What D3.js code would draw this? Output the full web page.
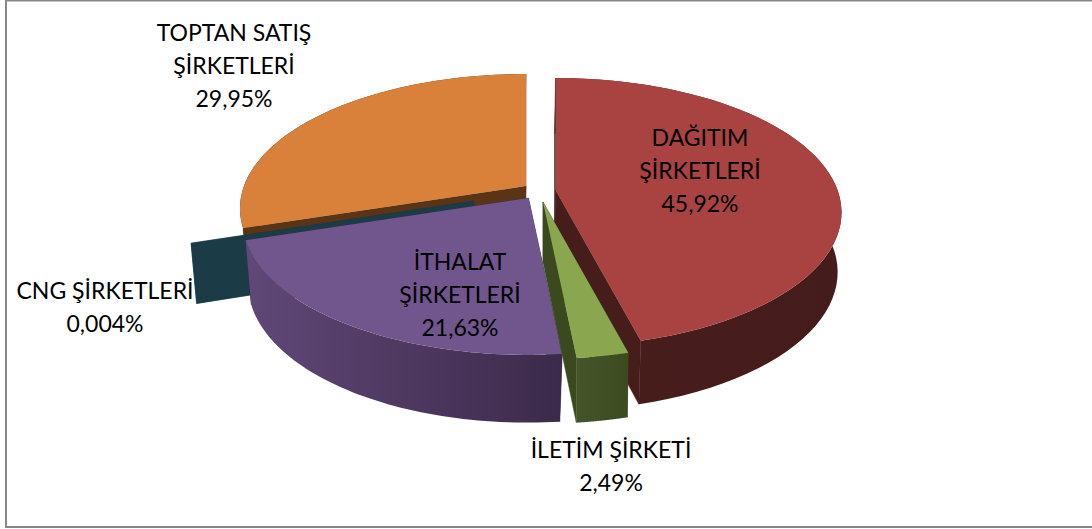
<!DOCTYPE html>
<html><head><meta charset="utf-8">
<script src="https://cdnjs.cloudflare.com/ajax/libs/d3/7.8.5/d3.min.js"></script>
<style>html,body{margin:0;padding:0;background:#fff}svg{display:block}
text{font-family:Lato,"Noto Sans",sans-serif;font-size:23px;fill:#000;text-anchor:middle}</style>
</head><body><svg id="c" width="1092" height="529"></svg>
<script>
// Data
const categories = ["DAĞITIM ŞİRKETLERİ","İLETİM ŞİRKETİ","İTHALAT ŞİRKETLERİ","CNG ŞİRKETLERİ","TOPTAN SATIŞ ŞİRKETLERİ"];
const values = [45.92, 2.49, 21.63, 0.004, 29.95];
const valueLabels = ["45,92%","2,49%","21,63%","0,004%","29,95%"];
const labelLines = [["DAĞITIM","ŞİRKETLERİ"],["İLETİM ŞİRKETİ"],["İTHALAT","ŞİRKETLERİ"],["CNG ŞİRKETLERİ"],["TOPTAN SATIŞ","ŞİRKETLERİ"]];

// Styling and layout
const topColors  = ["#a84342","#8aa64e","#70568c","#1b3c47","#d9803a"];
const sideColors = [["#481e1c","#441c1b"],["#45552a","#3c4a20"],["#604877","#3c2a4b"],["#1b3c47","#1b3c47"],["#5a3515","#5a3515"]];
const radialColors = ["#461d1b","#3a4a1e","#3c2a4b","#1b3c47","#5a3515"];
const apex = [[555.5,190],[543,202],[528.5,198],[474,201],[526,186]];
const sliceDepth = [59,60,63,59,59];
const sliceShrink = [0.99,0.99,0.975,0.975,0.975];
const sliceDrift = [-1,0,-1.5,-1.5,-1.5];
const labelAnchor = [[700,146],[611,458],[460,270],[105,299],[234,41]];
const lineStep = 33;
const paintOrder = [4,3,0,2,1];
const P = {kx:282, ky:130.7, persp:0.167, growY:1.03};

const svg = d3.select("#c");
svg.append("rect").attr("x",6).attr("y",0.5).attr("width",1200).attr("height",526.5)
   .attr("fill","#fff").attr("stroke","#868686").attr("stroke-width",2);

const pie = d3.pie().sort(null).startAngle(0).endAngle(2*Math.PI);
const arcs = pie(values);
const defs = svg.append("defs");

function topPt(c,t){const w=1/(1+P.persp*Math.cos(t));
  return [c[0]+P.kx*Math.sin(t)*w, c[1]-P.ky*Math.cos(t)*w];}
function botPt(c,t,i){const p=topPt(c,t);
  return [c[0]+(p[0]-c[0])*sliceShrink[i]+sliceDrift[i], c[1]+(p[1]-c[1])*P.growY+sliceDepth[i]];}
const centerBot = (c,i)=>[c[0]+sliceDrift[i],c[1]+sliceDepth[i]];
const samples=(a,b)=>d3.range(0,61).map(k=>a+(b-a)*k/60);
const line=d3.line();

paintOrder.forEach(i=>{
  const d=arcs[i], c=apex[i], a0=d.startAngle, a1=d.endAngle;
  const ts=samples(a0,a1);
  const xs=ts.flatMap(t=>[topPt(c,t)[0],botPt(c,t,i)[0]]);
  const gid="side"+i;
  const g=defs.append("linearGradient").attr("id",gid).attr("gradientUnits","userSpaceOnUse")
    .attr("x1",d3.min(xs)).attr("x2",d3.max(xs)).attr("y1",0).attr("y2",0);
  g.append("stop").attr("offset",0).attr("stop-color",sideColors[i][0]);
  g.append("stop").attr("offset",1).attr("stop-color",sideColors[i][1]);
  const G=svg.append("g").attr("class","slice").attr("data-name",categories[i]);
  // radial walls
  [a0,a1].forEach(t=>{
    G.append("path").attr("d",line([c,topPt(c,t),botPt(c,t,i),centerBot(c,i)])+"Z")
     .attr("fill",radialColors[i]).attr("stroke",radialColors[i]).attr("stroke-width",.5);
  });
  // outer wall
  G.append("path").attr("d",line(ts.map(t=>topPt(c,t)).concat(ts.slice().reverse().map(t=>botPt(c,t,i))))+"Z")
   .attr("fill",`url(#${gid})`);
  // top face
  G.append("path").attr("d",line([c].concat(ts.map(t=>topPt(c,t))))+"Z").attr("fill",topColors[i]);
});

// labels drawn above every slice
arcs.forEach((d,i)=>{
  const lines=labelLines[i].concat([valueLabels[i]]);
  const t=svg.append("text").attr("x",labelAnchor[i][0]).attr("y",labelAnchor[i][1]);
  lines.forEach((s,k)=>t.append("tspan").attr("x",labelAnchor[i][0]).attr("dy",k?lineStep:0).text(s));
});
</script></body></html>
